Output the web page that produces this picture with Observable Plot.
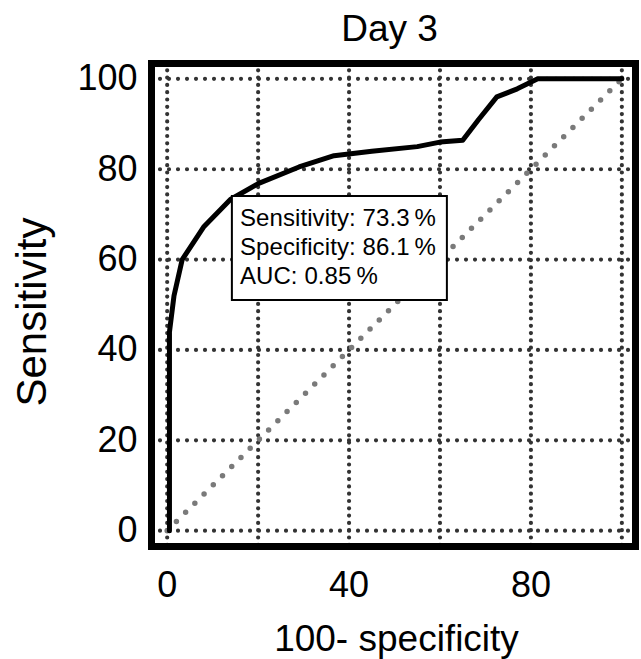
<!DOCTYPE html>
<html><head><meta charset="utf-8">
<script src="https://cdn.jsdelivr.net/npm/d3@7"></script>
<script src="https://cdn.jsdelivr.net/npm/@observablehq/plot@0.6"></script>
<style>body{margin:0;background:#fff}</style>
</head><body><div id="chart"></div>
<script>
const title = "Day 3";
const xLabel = "100- specificity";
const yLabel = "Sensitivity";
// ROC curve: x = 100 - specificity, y = sensitivity
const fpr  = [0.5, 0.5, 1.5, 3.3, 8, 13.9, 20, 29, 36.7, 45, 55, 60, 65, 68.5, 72.5, 77, 81.5, 100];
const sens = [0, 44, 52, 60, 67.2, 73.3, 76.8, 80.5, 83, 84, 85, 86, 86.4, 91, 96, 97.8, 100, 100];
// reference diagonal
const diagX = [0, 100];
const diagY = [0, 100];
const gridVals = [0, 20, 40, 60, 80, 100];
const xTicks = [0, 40, 80];
const yTicks = [0, 20, 40, 60, 80, 100];
const cutSensitivity = 73.3;
const cutSpecificity = 86.1;
const aucValue = 0.85;
const annotationLines = [
  `Sensitivity: ${cutSensitivity.toFixed(1)}\u2009%`,
  `Specificity: ${cutSpecificity.toFixed(1)}\u2009%`,
  `AUC: ${aucValue.toFixed(2)}\u2009%`
];

const roc = fpr.map((x, i) => ({x, y: sens[i]}));
const diag = diagX.map((x, i) => ({x, y: diagY[i]}));
const font = "'Liberation Sans', Arial, Helvetica, sans-serif";

const boxMark = Plot.dot([{x: 100 - cutSpecificity, y: cutSensitivity}], {
  x: "x", y: "y",
  render(index, scales, values, dimensions, context) {
    const g = d3.create("svg:g");
    const x0 = scales.x(100 - cutSpecificity) + 2;
    const y0 = scales.y(cutSensitivity) - 3;
    g.append("rect")
      .attr("x", x0).attr("y", y0).attr("width", 215).attr("height", 104)
      .attr("fill", "white").attr("stroke", "black").attr("stroke-width", 2);
    annotationLines.forEach((t, i) => {
      g.append("text")
        .attr("x", x0 + 8).attr("y", y0 + 30 + i * 29)
        .attr("text-anchor", "start")
        .attr("font-size", 24).attr("letter-spacing", "0.1px")
        .attr("font-family", font).attr("fill", "black")
        .text(t);
    });
    return g.node();
  }
});

const chart = Plot.plot({
  width: 641, height: 659,
  marginLeft: 151, marginRight: 6, marginTop: 63, marginBottom: 113,
  x: {domain: [-3.45, 103.0]},
  y: {domain: [-3.5, 103.4]},
  style: {fontFamily: font, background: "white"},
  marks: [
    Plot.ruleX(gridVals, {stroke: "#333", strokeWidth: 4.2, strokeDasharray: "0,7.3", strokeLinecap: "round"}),
    Plot.ruleY(gridVals, {stroke: "#333", strokeWidth: 4.2, strokeDasharray: "0,9", strokeLinecap: "round"}),
    Plot.line(diag, {x: "x", y: "y", stroke: "#7a7a7a", strokeWidth: 5.5, strokeDasharray: "0,13", strokeLinecap: "round"}),
    Plot.line(roc, {x: "x", y: "y", stroke: "black", strokeWidth: 5, strokeLinejoin: "round", strokeLinecap: "round"}),
    boxMark,
    Plot.frame({stroke: "black", strokeWidth: 7}),
    Plot.axisX(xTicks, {tickSize: 0, tickPadding: 25, fontSize: 36, label: null}),
    Plot.axisY(yTicks, {tickSize: 0, tickPadding: 14, fontSize: 36, label: null}),
    Plot.text([title], {text: d => d, frameAnchor: "top", lineAnchor: "bottom", dy: -23, dx: -4, fontSize: 37}),
    Plot.text([xLabel], {text: d => d, frameAnchor: "bottom", lineAnchor: "bottom", dy: 104, dx: 3, fontSize: 37}),
    Plot.text([yLabel], {text: d => d, frameAnchor: "left", textAnchor: "middle", rotate: -90, dx: -119, dy: 7, fontSize: 42})
  ]
});
document.getElementById("chart").appendChild(chart);
</script>
</body></html>
